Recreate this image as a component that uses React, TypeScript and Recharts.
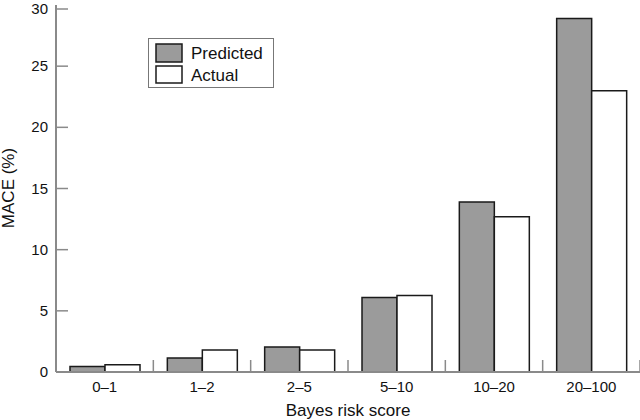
import React from "react";
import { Bar, BarChart, Legend, XAxis, YAxis } from "recharts";

const categories = ["0–1", "1–2", "2–5", "5–10", "10–20", "20–100"];
const predicted = [0.45, 1.15, 2.05, 6.1, 13.9, 28.9];
const actual = [0.6, 1.8, 1.8, 6.25, 12.7, 23.0];
const yTicks = [0, 5, 10, 15, 20, 25, 30];

const data = categories.map((c, i) => ({
	score: c,
	predicted: predicted[i],
	actual: actual[i],
}));

const W = 640;
const H = 420;
const LEFT = 56;
const TOP = 5;
const X_AXIS_H = 48;
const AXIS_Y = H - X_AXIS_H;
const BAND = (W - LEFT) / categories.length;
const FONT = "'Liberation Sans', Arial, Helvetica, sans-serif";
const AXIS_COLOR = "#8a8a8a";

function YTick(props: any) {
	const { y, payload } = props;
	return (
		<g>
			<line x1={LEFT} x2={LEFT + 12} y1={y} y2={y} stroke={AXIS_COLOR} strokeWidth={1.5} />
			<text x={LEFT - 8} y={y + 5} textAnchor="end" fill="#111" fontSize={15} fontFamily={FONT}>
				{payload.value}
			</text>
		</g>
	);
}

function XTick(props: any) {
	const { x, payload } = props;
	const edge = x + BAND / 2;
	return (
		<g>
			<line x1={edge} x2={edge} y1={AXIS_Y} y2={AXIS_Y - 12} stroke={AXIS_COLOR} strokeWidth={1.5} />
			<text x={x} y={AXIS_Y + 20} textAnchor="middle" fill="#111" fontSize={15} fontFamily={FONT}>
				{payload.value}
			</text>
		</g>
	);
}

function LegendBox() {
	return (
		<svg width={127} height={51} style={{ display: "block" }}>
			<rect x={0.5} y={0.5} width={125} height={49} fill="#fff" stroke="#777" strokeWidth={1} />
			<rect x={8} y={6} width={26} height={18} fill="#9b9b9b" stroke="#1a1a1a" strokeWidth={1.5} />
			<rect x={8} y={28} width={26} height={17} fill="#fff" stroke="#1a1a1a" strokeWidth={1.5} />
			<text x={43} y={21} fontSize={17} fill="#111" fontFamily={FONT}>
				Predicted
			</text>
			<text x={43} y={43} fontSize={17} fill="#111" fontFamily={FONT}>
				Actual
			</text>
		</svg>
	);
}

export default function App() {
	return (
		<div style={{ position: "absolute", left: 0, top: 0, background: "#fff" }}>
			<BarChart
				width={W}
				height={H}
				data={data}
				margin={{ top: TOP, right: 0, left: 0, bottom: 0 }}
				barGap={0}
			>
				<XAxis
					dataKey="score"
					interval={0}
					height={X_AXIS_H}
					tickLine={false}
					axisLine={{ stroke: AXIS_COLOR, strokeWidth: 2 }}
					tick={<XTick />}
					label={{
						content: () => (
							<text x={LEFT + (W - LEFT) / 2} y={416} textAnchor="middle" fontSize={17} fill="#111" fontFamily={FONT}>
								Bayes risk score
							</text>
						),
					}}
				/>
				<YAxis
					type="number"
					domain={[0, 30]}
					ticks={yTicks}
					width={LEFT}
					tickLine={false}
					axisLine={{ stroke: AXIS_COLOR, strokeWidth: 2 }}
					tick={<YTick />}
					label={{
						content: () => (
							<text
								transform={`translate(14, 188) rotate(-90)`}
								textAnchor="middle"
								fontSize={17}
								fill="#111"
								fontFamily={FONT}
							>
								MACE (%)
							</text>
						),
					}}
				/>
				<Legend
					layout="vertical"
					align="center"
					verticalAlign="middle"
					wrapperStyle={{ left: 148, top: 38, width: 127 }}
					content={<LegendBox />}
				/>
				<Bar
					dataKey="predicted"
					name="Predicted"
					barSize={35}
					fill="#9b9b9b"
					stroke="#1a1a1a"
					strokeWidth={1.5}
					isAnimationActive={false}
				/>
				<Bar
					dataKey="actual"
					name="Actual"
					barSize={35}
					fill="#ffffff"
					stroke="#1a1a1a"
					strokeWidth={1.5}
					isAnimationActive={false}
				/>
			</BarChart>
		</div>
	);
}
